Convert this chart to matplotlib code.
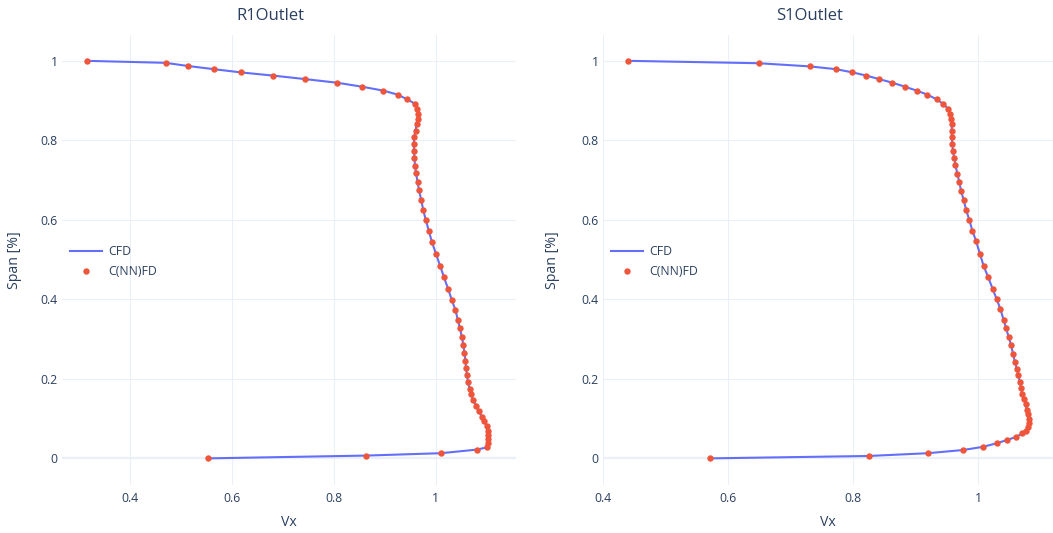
import matplotlib
matplotlib.use("Agg")
import matplotlib.pyplot as plt
from matplotlib.ticker import FuncFormatter, MultipleLocator

# colours / fonts in the plotly_white look
LINE_COLOR = "#636efa"
MARKER_COLOR = "#EF553B"
TEXT_COLOR = "#2a3f5f"
GRID_COLOR = "#EBF0F8"
plt.rcParams["font.family"] = ["Open Sans", "DejaVu Sans"]

# R1Outlet profile (CFD and C(NN)FD coincide)
r1_span = [1.0, 0.995, 0.987, 0.979, 0.971, 0.963, 0.954, 0.945, 0.935, 0.925,
           0.915, 0.903, 0.892, 0.880, 0.867, 0.854, 0.840, 0.823, 0.808, 0.792,
           0.774, 0.756, 0.736, 0.717, 0.696, 0.674, 0.651, 0.626, 0.600, 0.573,
           0.545, 0.515, 0.485, 0.455, 0.426, 0.399, 0.374, 0.349, 0.327, 0.305,
           0.284, 0.264, 0.245, 0.227, 0.209, 0.191, 0.175, 0.161, 0.146, 0.132,
           0.118, 0.105, 0.093, 0.081, 0.070, 0.059, 0.048, 0.038, 0.028, 0.022,
           0.013, 0.007, 0.0]
r1_vx = [0.316, 0.470, 0.514, 0.565, 0.617, 0.680, 0.744, 0.806, 0.855, 0.897,
         0.925, 0.944, 0.959, 0.963, 0.965, 0.964, 0.962, 0.960, 0.957, 0.957,
         0.957, 0.958, 0.959, 0.961, 0.964, 0.967, 0.971, 0.975, 0.980, 0.986,
         0.992, 1.000, 1.008, 1.016, 1.024, 1.031, 1.038, 1.043, 1.047, 1.051,
         1.054, 1.056, 1.058, 1.059, 1.061, 1.063, 1.066, 1.069, 1.073, 1.079,
         1.084, 1.090, 1.095, 1.100, 1.102, 1.103, 1.102, 1.102, 1.101, 1.080,
         1.010, 0.863, 0.554]

# S1Outlet profile
s1_span = [1.0, 0.994, 0.986, 0.979, 0.971, 0.963, 0.954, 0.945, 0.935, 0.925,
           0.915, 0.903, 0.892, 0.880, 0.867, 0.854, 0.840, 0.824, 0.808, 0.791,
           0.772, 0.756, 0.737, 0.716, 0.695, 0.673, 0.650, 0.625, 0.600, 0.573,
           0.546, 0.515, 0.484, 0.455, 0.426, 0.400, 0.375, 0.348, 0.327, 0.306,
           0.285, 0.263, 0.243, 0.226, 0.209, 0.192, 0.177, 0.163, 0.149, 0.136,
           0.122, 0.111, 0.099, 0.088, 0.078, 0.070, 0.063, 0.054, 0.046, 0.038,
           0.029, 0.021, 0.013, 0.006, 0.0]
s1_vx = [0.4405, 0.649, 0.731, 0.773, 0.799, 0.821, 0.842, 0.863, 0.883, 0.902,
         0.919, 0.934, 0.944, 0.952, 0.955, 0.957, 0.958, 0.958, 0.958, 0.959,
         0.960, 0.962, 0.964, 0.967, 0.970, 0.973, 0.977, 0.981, 0.986, 0.991,
         0.997, 1.003, 1.009, 1.0165, 1.0235, 1.030, 1.036, 1.041, 1.045, 1.049,
         1.053, 1.056, 1.059, 1.062, 1.0645, 1.067, 1.069, 1.071, 1.073, 1.076,
         1.078, 1.0795, 1.081, 1.082, 1.0805, 1.076, 1.071, 1.061, 1.046, 1.030,
         1.008, 0.976, 0.920, 0.825, 0.572]

titles = ["R1Outlet", "S1Outlet"]
x_limits = [(0.267, 1.157), (0.400, 1.120)]
y_limits = (-0.067, 1.065)

W, H = 1053, 533
fig = plt.figure(figsize=(W / 100, H / 100), dpi=100)

# panel boxes in pixels: left, top, width, height
boxes = [(62, 35, 454, 450), (603, 35, 450, 450)]
title_x = [270, 810]

panels = [(r1_vx, r1_span), (s1_vx, s1_span)]
for i, (vx, span) in enumerate(panels):
    l, t, w, h = boxes[i]
    ax = fig.add_axes([l / W, 1 - (t + h) / H, w / W, h / H])
    ax.set_xlim(*x_limits[i])
    ax.set_ylim(*y_limits)

    ax.plot(vx, span, color=LINE_COLOR, lw=1.5, label="CFD", zorder=3)
    ax.plot(vx, span, "o", color=MARKER_COLOR, ms=4.6, mew=0,
            linestyle="none", label="C(NN)FD", zorder=4)

    ax.xaxis.set_major_locator(MultipleLocator(0.2))
    ax.yaxis.set_major_locator(MultipleLocator(0.2))
    fmt = FuncFormatter(lambda v, p: f"{round(v, 2):g}")
    ax.xaxis.set_major_formatter(fmt)
    ax.yaxis.set_major_formatter(fmt)
    ax.grid(True, color=GRID_COLOR, lw=0.8, zorder=0)
    ax.axhline(0, color=GRID_COLOR, lw=1.6, zorder=1)
    ax.set_axisbelow(True)
    for s in ax.spines.values():
        s.set_visible(False)
    ax.tick_params(length=0, labelsize=8.8, colors=TEXT_COLOR)
    ax.tick_params(axis="x", pad=5)
    ax.tick_params(axis="y", pad=3)

    ax.set_xlabel("Vx", fontsize=10.2, color=TEXT_COLOR)
    ax.xaxis.set_label_coords(0.5, (485 - 523) / h)
    ax.xaxis.label.set_va("center")
    ax.set_ylabel("Span [%]", fontsize=10.2, color=TEXT_COLOR)
    ylab_x = [15, 553][i]
    ax.yaxis.set_label_coords((ylab_x - l) / w, 0.5)
    ax.yaxis.label.set_va("center")

    ax.legend(loc="upper left", bbox_to_anchor=(0.018, 0.533), frameon=False,
              fontsize=8.8, handlelength=2.6, handletextpad=0.55,
              labelspacing=0.55, borderpad=0, borderaxespad=0,
              labelcolor=TEXT_COLOR)

    fig.text(title_x[i] / W, 1 - 16 / H, titles[i], ha="center", va="center",
             fontsize=12, color=TEXT_COLOR)

fig.savefig("out.png", dpi=100, facecolor="white")
